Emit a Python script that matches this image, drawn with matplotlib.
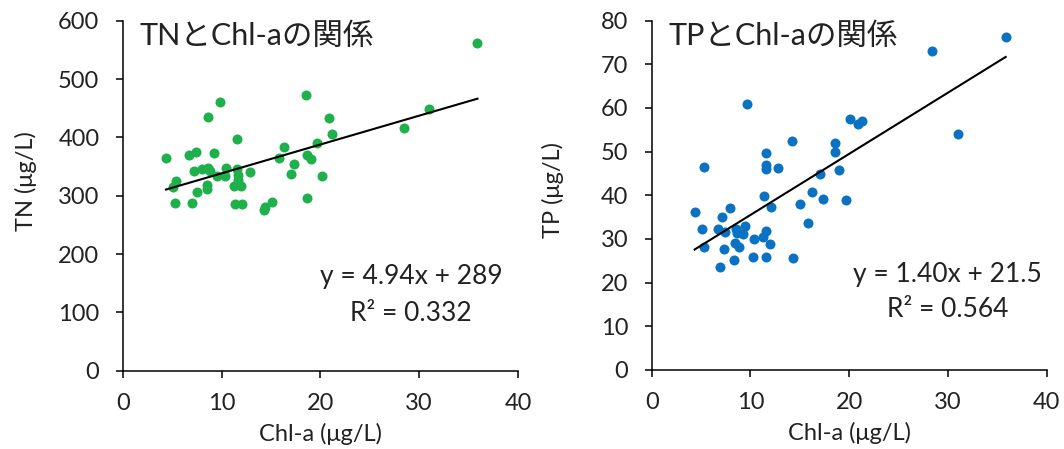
import matplotlib.pyplot as plt
import numpy as np

# TN vs Chl-a (left panel)
chl_tn = [35.9, 4.35, 5.33, 5.1, 5.3, 6.95, 6.68, 7.36, 7.19, 7.96, 8.57, 8.8, 7.46, 8.47,
          8.47, 8.64, 9.78, 9.2, 9.55, 10.4, 10.3, 11.57, 11.54, 11.6, 11.6, 11.23, 12.0,
          11.37, 12.1, 12.85, 14.27, 14.4, 15.05, 15.82, 16.26, 17.34, 17.0, 18.56, 18.6,
          18.6, 19.03, 19.67, 20.17, 20.85, 21.19, 28.44, 31.0]
tn = [561, 365, 325, 315, 288, 288, 369, 375, 342, 346, 348, 342, 306, 318,
      311, 435, 461, 374, 333, 348, 334, 397, 345, 335, 327, 316, 316,
      285, 286, 341, 276, 280, 290, 364, 383, 354, 337, 472, 296,
      370, 363, 390, 334, 434, 405, 416, 449]

# TP vs Chl-a (right panel)
chl_tp = [35.85, 28.4, 9.68, 31.0, 20.08, 20.9, 21.27, 14.24, 18.56, 18.6, 11.57, 11.57,
          11.57, 12.8, 5.33, 17.0, 19.0, 16.27, 17.3, 19.7, 11.37, 12.1, 15.0, 4.35, 7.96,
          7.15, 5.06, 6.68, 7.45, 8.5, 8.6, 9.48, 9.2, 5.3, 7.35, 8.44, 8.8, 6.92, 8.37,
          10.36, 11.27, 11.54, 11.98, 10.26, 11.57, 14.34, 15.8]
tp = [76.3, 73.0, 61.0, 54.0, 57.4, 56.4, 57.0, 52.5, 52.0, 50.0, 49.7, 46.9,
      46.0, 46.2, 46.4, 44.9, 45.8, 40.7, 39.2, 38.9, 39.8, 37.4, 38.0, 36.2, 37.0,
      35.1, 32.2, 32.4, 31.5, 32.2, 31.3, 32.9, 31.1, 28.2, 27.7, 29.0, 28.1, 23.5, 25.2,
      30.1, 30.4, 31.9, 28.8, 25.9, 25.9, 25.7, 33.7]

# Excel linear trendlines as shown in the chart
fit_tn = (4.94, 289)
fit_tp = (1.40, 21.5)

fonts = ['Lato', 'Noto Sans CJK JP', 'DejaVu Sans']
plt.rcParams['font.family'] = fonts
txt = '#222222'

fig = plt.figure(figsize=(10.64, 4.49), dpi=100)
ax1 = fig.add_axes([0.1156, 0.1744, 0.3712, 0.7795])
ax2 = fig.add_axes([0.6125, 0.176, 0.3712, 0.778])

panels = [
    (ax1, chl_tn, tn, fit_tn, '#1DB04B', 'TNとChl-aの関係', 'TN (μg/L)', 'y = 4.94x + 289',
     'R² = 0.332', (0, 600), 100, (0.730, 0.269, 0.164), (-0.218, 0.542)),
    (ax2, chl_tp, tp, fit_tp, '#0A72C2', 'TPとChl-aの関係', 'TP (μg/L)', 'y = 1.40x + 21.5',
     'R² = 0.564', (0, 80), 10, (0.749, 0.272, 0.172), (-0.222, 0.515)),
]

for ax, x, y, fit, col, title, ylab, eq, r2, ylim, ystep, eqpos, ylpos in panels:
    ax.scatter(x, y, s=52, color=col, zorder=3, linewidths=0)
    fx = np.array([min(x), max(x)])
    ax.plot(fx, fit[0] * fx + fit[1], color='black', lw=1.5, zorder=4)
    ax.set_xlim(0, 40)
    ax.set_ylim(*ylim)
    ax.set_xticks(np.arange(0, 41, 10))
    ax.set_yticks(np.arange(ylim[0], ylim[1] + 1, ystep))
    for s in ['top', 'right']:
        ax.spines[s].set_visible(False)
    for s in ['left', 'bottom']:
        ax.spines[s].set_linewidth(1.1)
        ax.spines[s].set_color('black')
    ax.tick_params(direction='out', length=5, width=1.1, labelsize=17, labelcolor=txt)
    ax.tick_params(axis='x', pad=11)
    ax.tick_params(axis='y', pad=12)
    ax.set_xlabel('Chl-a (μg/L)', fontsize=17, color=txt)
    ax.xaxis.set_label_coords(0.5, -0.15)
    ax.set_ylabel(ylab, fontsize=17, color=txt)
    ax.yaxis.set_label_coords(*ylpos)
    ax.text(0.043, 0.955, title, transform=ax.transAxes, fontsize=22, va='center', ha='left',
            color=txt)
    ax.text(eqpos[0], eqpos[1], eq, transform=ax.transAxes, fontsize=19, ha='center',
            va='center', color=txt)
    ax.text(eqpos[0], eqpos[2], r2, transform=ax.transAxes, fontsize=19, ha='center',
            va='center', color=txt)

fig.savefig('out.png', dpi=100)
